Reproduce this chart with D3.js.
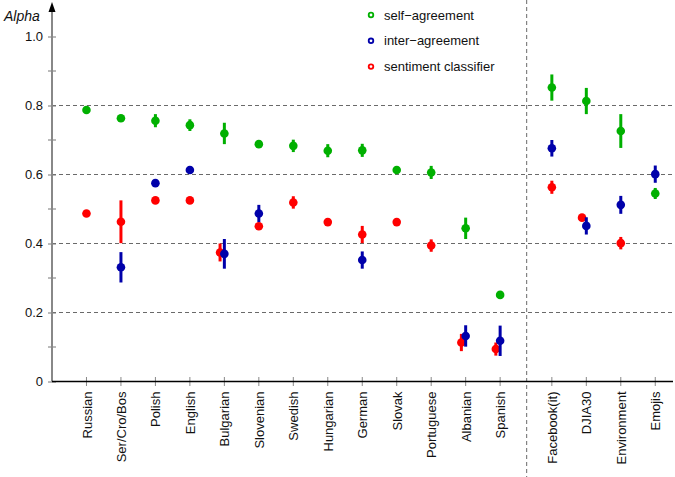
<!DOCTYPE html>
<html><head><meta charset="utf-8">
<script src="https://cdn.jsdelivr.net/npm/d3@7"></script>
<style>body{margin:0;background:#fff}svg{display:block;font-family:"Liberation Sans",Arial,sans-serif}</style>
</head><body><svg id="c" width="675" height="477"></svg>
<script>
const categories = ["Russian","Ser/Cro/Bos","Polish","English","Bulgarian","Slovenian","Swedish","Hungarian","German","Slovak","Portuguese","Albanian","Spanish","Facebook(it)","DJIA30","Environment","Emojis"];
const catSlots = [0,1,2,3,4,5,6,7,8,9,10,11,12,13.5,14.5,15.5,16.5];
const selfAgree = [0.787,0.763,0.756,0.743,0.719,0.688,0.683,0.669,0.670,0.613,0.606,0.444,0.251,0.852,0.813,0.726,0.545];
const selfErr   = [0.009,0.009,0.019,0.017,0.031,0.008,0.018,0.019,0.019,0.008,0.019,0.031,0.008,0.038,0.038,0.049,0.016];
const interAgree = [null,0.331,0.575,0.613,0.370,0.487,null,null,0.352,null,null,0.132,0.118,0.676,0.451,0.512,0.601];
const interErr   = [null,0.044,0.009,0.008,0.043,0.025,null,null,0.025,null,null,0.031,0.044,0.024,0.025,0.026,0.025];
const classifier = [0.487,0.463,0.525,0.525,0.374,0.450,0.519,0.462,0.426,0.462,0.394,0.113,0.094,0.563,0.475,0.401,null];
const classErr   = [0.008,0.062,0.009,0.009,0.026,0.008,0.018,0.009,0.025,0.008,0.018,0.025,0.019,0.019,0.008,0.018,null];
const yTicks = [0,0.2,0.4,0.6,0.8,1.0];
const yMinorTicks = [0.1,0.3,0.5,0.7,0.9];
const gridValues = [0.2,0.4,0.6,0.8];
const separatorSlot = 12.77;
const seriesNames = ["self\u2212agreement","inter\u2212agreement","sentiment classifier"];
const seriesColors = ["#00b000","#0000aa","#ff0000"];

const svg = d3.select("#c");
const x = d3.scaleLinear().domain([-1,17]).range([52,672.5]);
const y = d3.scaleLinear().domain([0,1]).range([381.5,36.5]);

// grid
svg.append("g").selectAll("line").data(gridValues).join("line")
  .attr("x1",52).attr("x2",675).attr("y1",d=>y(d)).attr("y2",d=>y(d))
  .attr("stroke","#6a6a6a").attr("stroke-width",1).attr("stroke-dasharray","4,3");
// separator
svg.append("line").attr("x1",x(separatorSlot)).attr("x2",x(separatorSlot)).attr("y1",0).attr("y2",477)
  .attr("stroke","#6a6a6a").attr("stroke-width",1).attr("stroke-dasharray","4,3");

// y axis
const yAxis = d3.axisLeft(y).tickValues(yTicks).tickFormat(d=>d===0?"0":d3.format(".1f")(d)).tickSize(4).tickSizeInner(4);
const gy = svg.append("g").attr("transform","translate(52,0)").call(yAxis);
gy.select(".domain").remove();
gy.selectAll(".tick line").attr("x1",-4).attr("x2",4).attr("stroke","#777");
gy.selectAll(".tick text").attr("x",-9).attr("font-size",13).attr("fill","#111").attr("font-family","Liberation Sans, Arial, sans-serif");
svg.append("g").selectAll("line").data(yMinorTicks).join("line")
  .attr("x1",48).attr("x2",56).attr("y1",d=>y(d)).attr("y2",d=>y(d)).attr("stroke","#777");
svg.append("line").attr("x1",52).attr("x2",52).attr("y1",10).attr("y2",381.5).attr("stroke","#888").attr("stroke-width",2);
svg.append("path").attr("d","M52,2 L48.5,12 L55.5,12 Z").attr("fill","#000");
svg.append("text").attr("x",4).attr("y",21).attr("font-size",14).attr("font-style","italic").attr("fill","#111").text("Alpha");

// x axis
const xAxis = d3.axisBottom(x).tickValues(catSlots).tickFormat((d,i)=>categories[i]).tickSize(0);
const gx = svg.append("g").attr("transform","translate(0,381.5)").call(xAxis);
gx.select(".domain").remove();
gx.selectAll(".tick text").attr("transform","rotate(-90)").attr("text-anchor","end")
  .attr("x",-10).attr("y",0).attr("dy","0.35em").attr("font-size",13).attr("fill","#111")
  .attr("font-family","Liberation Sans, Arial, sans-serif");
svg.append("g").selectAll("line").data(catSlots).join("line")
  .attr("x1",d=>x(d)).attr("x2",d=>x(d)).attr("y1",377).attr("y2",386).attr("stroke","#888");
svg.append("line").attr("x1",52).attr("x2",673).attr("y1",381.5).attr("y2",381.5).attr("stroke","#000").attr("stroke-width",1.3);

// series
function build(vals, errs, k){
  return categories.map((c,i)=>{
    if(vals[i]==null) return null;
    let off = 0;
    if(k===2 && interAgree[i]!=null && Math.abs(vals[i]-interAgree[i])<0.03) off = -4.3;
    return {cx:x(catSlots[i])+off, v:vals[i], e:errs[i]};
  }).filter(d=>d);
}
const series = [build(selfAgree,selfErr,0), build(classifier,classErr,2), build(interAgree,interErr,1)];
const colorIdx = [0,2,1];
series.forEach((data,j)=>{
  const col = seriesColors[colorIdx[j]];
  const g = svg.append("g");
  g.selectAll("line").data(data).join("line")
    .attr("x1",d=>d.cx).attr("x2",d=>d.cx).attr("y1",d=>y(d.v+d.e)).attr("y2",d=>y(d.v-d.e))
    .attr("stroke",col).attr("stroke-width",3);
  g.selectAll("circle").data(data).join("circle")
    .attr("cx",d=>d.cx).attr("cy",d=>y(d.v)).attr("r",4.3).attr("fill",col);
});

// legend
const lg = svg.append("g");
seriesNames.forEach((n,i)=>{
  const ly = 15 + i*25.8;
  lg.append("circle").attr("cx",371).attr("cy",ly).attr("r",2.3).attr("fill","#fff").attr("stroke",seriesColors[i]).attr("stroke-width",1.8);
  lg.append("text").attr("x",384).attr("y",ly).attr("dy","0.35em").attr("font-size",13).attr("fill","#111").text(n);
});
</script></body></html>
